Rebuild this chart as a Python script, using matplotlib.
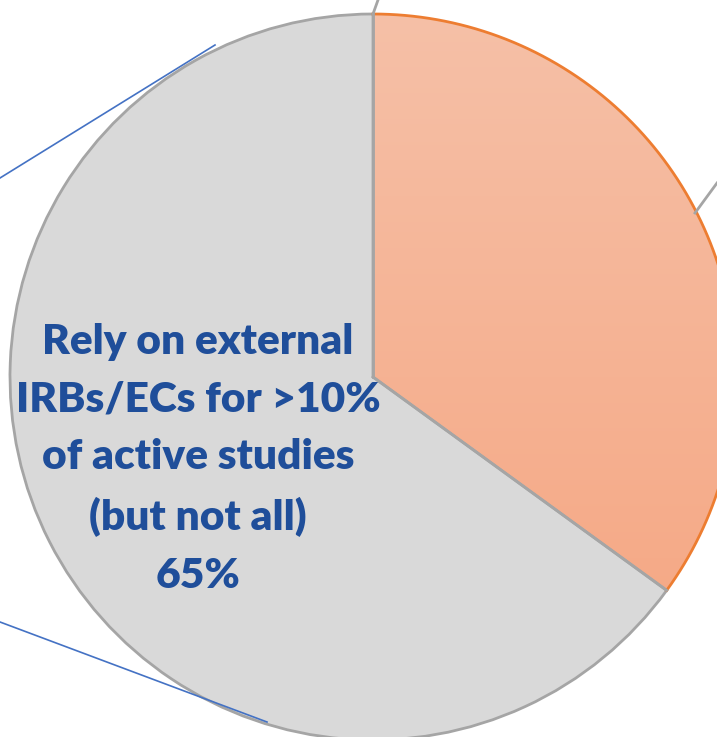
import numpy as np
import matplotlib
matplotlib.use("Agg")
import matplotlib.pyplot as plt

categories = ["Rely on external IRBs/ECs for all active studies",
              "Rely on external\nIRBs/ECs for >10%\nof active studies\n(but not all)"]
values = [35, 65]
label_pct = ["35%", "65%"]

W, H = 717, 737
fig = plt.figure(figsize=(W / 100, H / 100), dpi=100)
ax = fig.add_axes([0, 0, 1, 1])

cx, cy, r = 373, H - 377, 363
wedges, _ = ax.pie(values, startangle=90, counterclock=False, radius=r,
                   center=(cx, cy), frame=True,
                   colors=["none", "#D9D9D9"],
                   wedgeprops=dict(edgecolor="#A5A5A5", linewidth=2))
ax.set_aspect("equal")
ax.axis("off")

# gradient fill for orange wedge
grad = np.linspace(0, 1, 256).reshape(-1, 1)
top = np.array([246, 192, 167]) / 255
bot = np.array([245, 164, 127]) / 255
img = top + (bot - top) * grad[:, :, None] * np.ones((1, 1, 3))
im = ax.imshow(img, extent=(cx - r, cx + r, cy - r, cy + r), origin="upper",
               aspect="auto", zorder=0)
im.set_clip_path(wedges[0])
wedges[0].set_zorder(1)
wedges[0].set_edgecolor("none")
t1 = wedges[0].theta1
t2 = wedges[0].theta2
th = np.radians(np.linspace(t1, t2, 200))
ax.plot(cx + r * np.cos(th), cy + r * np.sin(th), color="#ED7D31", lw=2, zorder=3)
for t in (t1, t2):
    a = np.radians(t)
    ax.plot([cx, cx + r * np.cos(a)], [cy, cy + r * np.sin(a)], color="#A5A5A5", lw=2, zorder=3)

ax.set_xlim(0, W)
ax.set_ylim(0, H)

# leader / connector lines
ax.plot([373, 378], [H - 14, H - 0], color="#A5A5A5", lw=2, zorder=4, clip_on=False)
ax.plot([695, 717], [H - 213, H - 183], color="#A5A5A5", lw=2, zorder=4, clip_on=False)
ax.plot([215, 0], [H - 45, H - 178], color="#4472C4", lw=1.2, zorder=4)
ax.plot([0, 267], [H - 622, H - 722], color="#4472C4", lw=1.2, zorder=4)

ax.text(198, H - 459, categories[1] + "\n" + label_pct[1], ha="center", va="center",
        fontsize=30.5, fontweight="heavy", color="#1F4E9A", family="Lato",
        linespacing=1.63, zorder=5)

fig.savefig("out.png", dpi=100)
